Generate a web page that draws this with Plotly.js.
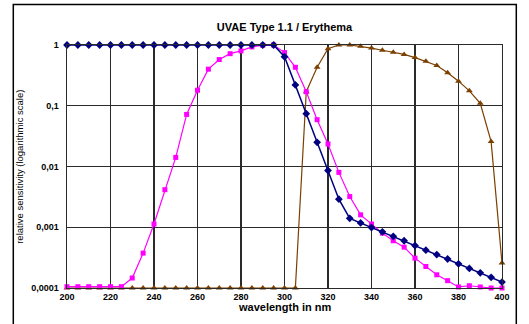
<!DOCTYPE html>
<html>
<head>
<meta charset="utf-8">
<script src="https://cdn.plot.ly/plotly-3.0.1.min.js"></script>
<style>html,body{margin:0;padding:0;background:#fff;}#chart{width:529px;height:324px;}</style>
</head>
<body>
<div id="chart"></div>
<script>
// wavelengths in nm (5 nm steps)
const wavelengths = [200,205,210,215,220,225,230,235,240,245,250,255,260,265,270,275,280,285,290,295,300,305,310,315,320,325,330,335,340,345,350,355,360,365,370,375,380,385,390,395,400];

// navy diamonds: erythema action spectrum
const erythema = [1,1,1,1,1,1,1,1,1,1,1,1,1,1,1,1,1,1,1,1,
  0.64,0.22,0.074,0.025,0.0086,0.0029,0.0014,0.00118,0.00099,0.00084,0.00071,0.0006,0.0005,0.00042,0.000355,0.0003,0.00025,0.00021,0.000178,0.00015,0.000125];

// magenta squares
const sensorA = [0.000105,0.000105,0.000105,0.000105,0.000105,0.000105,0.000146,0.000375,0.00113,0.00415,0.0141,0.072,0.18,0.40,0.576,0.72,0.80,0.93,0.99,1.0,
  0.75,0.43,0.17,0.059,0.0235,0.008,0.0032,0.0016,0.00113,0.0008,0.0006,0.00047,0.00031,0.000226,0.000165,0.000132,0.000104,0.000109,0.000104,0.0001,0.0001];

// brown triangles
const sensorB = [0.0001,0.0001,0.0001,0.0001,0.0001,0.0001,0.0001,0.0001,0.0001,0.0001,0.0001,0.0001,0.0001,0.0001,0.0001,0.0001,0.0001,0.0001,0.0001,0.0001,
  0.0001,0.0001,0.17,0.43,0.87,1.0,1.0,0.95,0.89,0.82,0.76,0.70,0.62,0.54,0.46,0.35,0.254,0.176,0.11,0.0257,0.000257];

const yTickVals = [1,0.1,0.01,0.001,0.0001];
const yTickText = ['1','0,1','0,01','0,001','0,0001'];
const xTickVals = [200,220,240,260,280,300,320,340,360,380,400];

const font = 'Liberation Sans, Arial, sans-serif';

const traces = [
  {x: wavelengths, y: sensorB, type:'scatter', mode:'lines+markers', name:'B',
   line:{color:'#7B3F00', width:1.2}, marker:{symbol:'triangle-up', size:6, color:'#7B3F00'}, cliponaxis:false},
  {x: wavelengths, y: sensorA, type:'scatter', mode:'lines+markers', name:'A',
   line:{color:'#FF00FF', width:1.2}, marker:{symbol:'square', size:5, color:'#FF00FF'}, cliponaxis:false},
  {x: wavelengths, y: erythema, type:'scatter', mode:'lines+markers', name:'Erythema',
   line:{color:'#000080', width:1.5}, marker:{symbol:'diamond', size:6, color:'#000080'}, cliponaxis:false}
];

const layout = {
  width:529, height:324,
  margin:{l:66.7, r:27.3, t:44.7, b:35.7},
  paper_bgcolor:'#fff', plot_bgcolor:'#fff',
  showlegend:false,
  font:{family:font, color:'#000'},
  title:{text:'<b>UVAE Type 1.1 / Erythema</b>', font:{family:font, size:11, color:'#000'},
         x:0.5, xref:'paper', xanchor:'center', y:1-27/324, yref:'container', yanchor:'middle'},
  xaxis:{range:[200,400], tickvals:xTickVals, ticktext:xTickVals.map(v=>'<b>'+v+'</b>'),
         tickfont:{family:font, size:9, color:'#000'}, showgrid:true, gridcolor:'#2a2a2a', gridwidth:1.4,
         showline:true, linecolor:'#2a2a2a', linewidth:1.4, mirror:true, zeroline:false, ticks:'', ticklen:0,
         title:{text:''}},
  yaxis:{type:'log', range:[-4,0], tickvals:yTickVals, ticktext:yTickText.map(v=>'<b>'+v+'</b>'),
         tickfont:{family:font, size:9, color:'#000'}, showgrid:true, gridcolor:'#2a2a2a', gridwidth:1.4,
         showline:true, linecolor:'#2a2a2a', linewidth:1.4, mirror:true, zeroline:false, ticks:'', ticklen:0,
         ticklabelstandoff:5, title:{text:''}},
  annotations:[
    {text:'<b>wavelength in nm</b>', xref:'paper', yref:'paper', x:0.5, y:(288.3-307)/243.6,
     xanchor:'center', yanchor:'middle', showarrow:false, font:{family:font, size:11, color:'#000'}},
    {text:'relative sensitivity (logarithmic scale)', xref:'paper', yref:'paper', x:(19-66.7)/435, y:0.5,
     xanchor:'center', yanchor:'middle', textangle:-90, showarrow:false, font:{family:font, size:9.5, color:'#000'}}
  ],
  shapes:[
    {type:'rect', xref:'paper', yref:'paper', x0:(13-66.7)/435, x1:(516-66.7)/435, y0:(288.3-330)/243.6, y1:1+(44.7-4)/243.6,
     line:{color:'#000', width:1.5}, fillcolor:'rgba(0,0,0,0)', layer:'below'}
  ]
};

Plotly.newPlot('chart', traces, layout, {displayModeBar:false, staticPlot:true});
</script>
</body>
</html>
